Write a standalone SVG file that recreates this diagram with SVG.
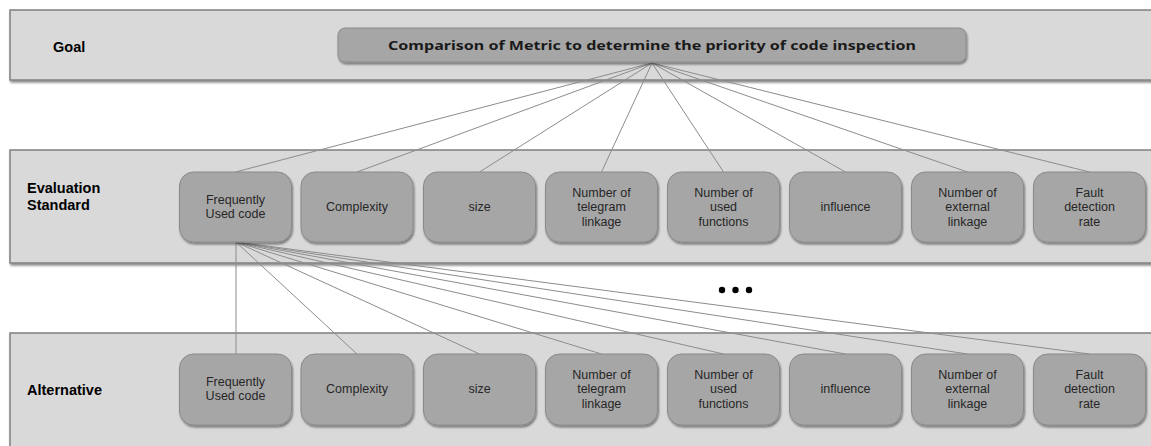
<svg xmlns="http://www.w3.org/2000/svg" width="1151" height="446" viewBox="0 0 1151 446">
<defs>
<filter id="sh" x="-10%" y="-10%" width="125%" height="130%">
<feGaussianBlur in="SourceAlpha" stdDeviation="1.2"/>
<feOffset dx="1" dy="1.5" result="o"/>
<feComponentTransfer><feFuncA type="linear" slope="0.45"/></feComponentTransfer>
<feMerge><feMergeNode/><feMergeNode in="SourceGraphic"/></feMerge>
</filter>
</defs>
<style>
.band{fill:#d9d9d9;stroke:#808080;stroke-width:1.5;filter:url(#sh)}
.node{fill:#a6a6a6;stroke:#8a8a8a;stroke-width:1;filter:url(#sh)}
.lbl{font-family:"Liberation Sans",Arial,sans-serif;font-weight:bold;font-size:14.5px;fill:#000}
.nt{font-family:"Liberation Sans",Arial,sans-serif;font-size:12.5px;fill:#262626;text-anchor:middle}
.gt{font-family:"Noto Sans","Liberation Sans",sans-serif;font-weight:bold;font-size:12.5px;fill:#1a1a1a;text-anchor:middle}
.con{stroke:#8c8c8c;stroke-width:1;fill:none}
</style>
<g id="bands">
<rect class="band" x="10" y="10" width="1150" height="70"/>
<rect class="band" x="10" y="150" width="1150" height="113"/>
<rect class="band" x="10" y="333" width="1150" height="125"/>
<text class="lbl" x="53" y="52">Goal</text>
<text class="lbl" x="27" y="193">Evaluation</text>
<text class="lbl" x="27" y="210">Standard</text>
<text class="lbl" x="27" y="395">Alternative</text>
</g>
<g id="connectors">
<line class="con" x1="652" y1="63" x2="235.5" y2="172"/>
<line class="con" x1="652" y1="63" x2="357" y2="172"/>
<line class="con" x1="652" y1="63" x2="479.5" y2="172"/>
<line class="con" x1="652" y1="63" x2="601.5" y2="172"/>
<line class="con" x1="652" y1="63" x2="723.5" y2="172"/>
<line class="con" x1="652" y1="63" x2="845.5" y2="172"/>
<line class="con" x1="652" y1="63" x2="967.5" y2="172"/>
<line class="con" x1="652" y1="63" x2="1089.5" y2="172"/>
<line class="con" x1="236" y1="242" x2="236" y2="354"/>
<line class="con" x1="236" y1="242" x2="357" y2="354"/>
<line class="con" x1="236" y1="242" x2="479.5" y2="354"/>
<line class="con" x1="236" y1="242" x2="601.5" y2="354"/>
<line class="con" x1="236" y1="242" x2="723.5" y2="354"/>
<line class="con" x1="236" y1="242" x2="845.5" y2="354"/>
<line class="con" x1="236" y1="242" x2="967.5" y2="354"/>
<line class="con" x1="236" y1="242" x2="1089.5" y2="354"/>
</g>
<g id="ellipsis" fill="#000">
<circle cx="722" cy="290" r="3.2"/>
<circle cx="735.5" cy="290" r="3.2"/>
<circle cx="749" cy="290" r="3.2"/>
</g>
<g id="goal">
<rect class="node" x="338" y="28" width="628" height="34" rx="7"/>
<text class="gt" x="652" y="50" textLength="528" lengthAdjust="spacingAndGlyphs">Comparison  of Metric to determine  the priority of code  inspection</text>
</g>
<g id="eval-1"><rect class="node" x="179.5" y="172" width="112" height="70" rx="14"/><text class="nt" x="235.5" y="203.5">Frequently</text><text class="nt" x="235.5" y="218">Used  code</text></g>
<g id="eval-2"><rect class="node" x="301" y="172" width="112" height="70" rx="14"/><text class="nt" x="357" y="211">Complexity</text></g>
<g id="eval-3"><rect class="node" x="423.5" y="172" width="112" height="70" rx="14"/><text class="nt" x="479.5" y="211">size</text></g>
<g id="eval-4"><rect class="node" x="545.5" y="172" width="112" height="70" rx="14"/><text class="nt" x="601.5" y="196.5">Number  of</text><text class="nt" x="601.5" y="211">telegram</text><text class="nt" x="601.5" y="225.5">linkage</text></g>
<g id="eval-5"><rect class="node" x="667.5" y="172" width="112" height="70" rx="14"/><text class="nt" x="723.5" y="196.5">Number  of</text><text class="nt" x="723.5" y="211">used</text><text class="nt" x="723.5" y="225.5">functions</text></g>
<g id="eval-6"><rect class="node" x="789.5" y="172" width="112" height="70" rx="14"/><text class="nt" x="845.5" y="211">influence</text></g>
<g id="eval-7"><rect class="node" x="911.5" y="172" width="112" height="70" rx="14"/><text class="nt" x="967.5" y="196.5">Number  of</text><text class="nt" x="967.5" y="211">external</text><text class="nt" x="967.5" y="225.5">linkage</text></g>
<g id="eval-8"><rect class="node" x="1033.5" y="172" width="112" height="70" rx="14"/><text class="nt" x="1089.5" y="196.5">Fault</text><text class="nt" x="1089.5" y="211">detection</text><text class="nt" x="1089.5" y="225.5">rate</text></g>
<g id="alt-1"><rect class="node" x="179.5" y="354" width="112" height="71" rx="14"/><text class="nt" x="235.5" y="385.5">Frequently</text><text class="nt" x="235.5" y="400">Used  code</text></g>
<g id="alt-2"><rect class="node" x="301" y="354" width="112" height="71" rx="14"/><text class="nt" x="357" y="393">Complexity</text></g>
<g id="alt-3"><rect class="node" x="423.5" y="354" width="112" height="71" rx="14"/><text class="nt" x="479.5" y="393">size</text></g>
<g id="alt-4"><rect class="node" x="545.5" y="354" width="112" height="71" rx="14"/><text class="nt" x="601.5" y="378.5">Number  of</text><text class="nt" x="601.5" y="393">telegram</text><text class="nt" x="601.5" y="407.5">linkage</text></g>
<g id="alt-5"><rect class="node" x="667.5" y="354" width="112" height="71" rx="14"/><text class="nt" x="723.5" y="378.5">Number  of</text><text class="nt" x="723.5" y="393">used</text><text class="nt" x="723.5" y="407.5">functions</text></g>
<g id="alt-6"><rect class="node" x="789.5" y="354" width="112" height="71" rx="14"/><text class="nt" x="845.5" y="393">influence</text></g>
<g id="alt-7"><rect class="node" x="911.5" y="354" width="112" height="71" rx="14"/><text class="nt" x="967.5" y="378.5">Number  of</text><text class="nt" x="967.5" y="393">external</text><text class="nt" x="967.5" y="407.5">linkage</text></g>
<g id="alt-8"><rect class="node" x="1033.5" y="354" width="112" height="71" rx="14"/><text class="nt" x="1089.5" y="378.5">Fault</text><text class="nt" x="1089.5" y="393">detection</text><text class="nt" x="1089.5" y="407.5">rate</text></g>
</svg>
